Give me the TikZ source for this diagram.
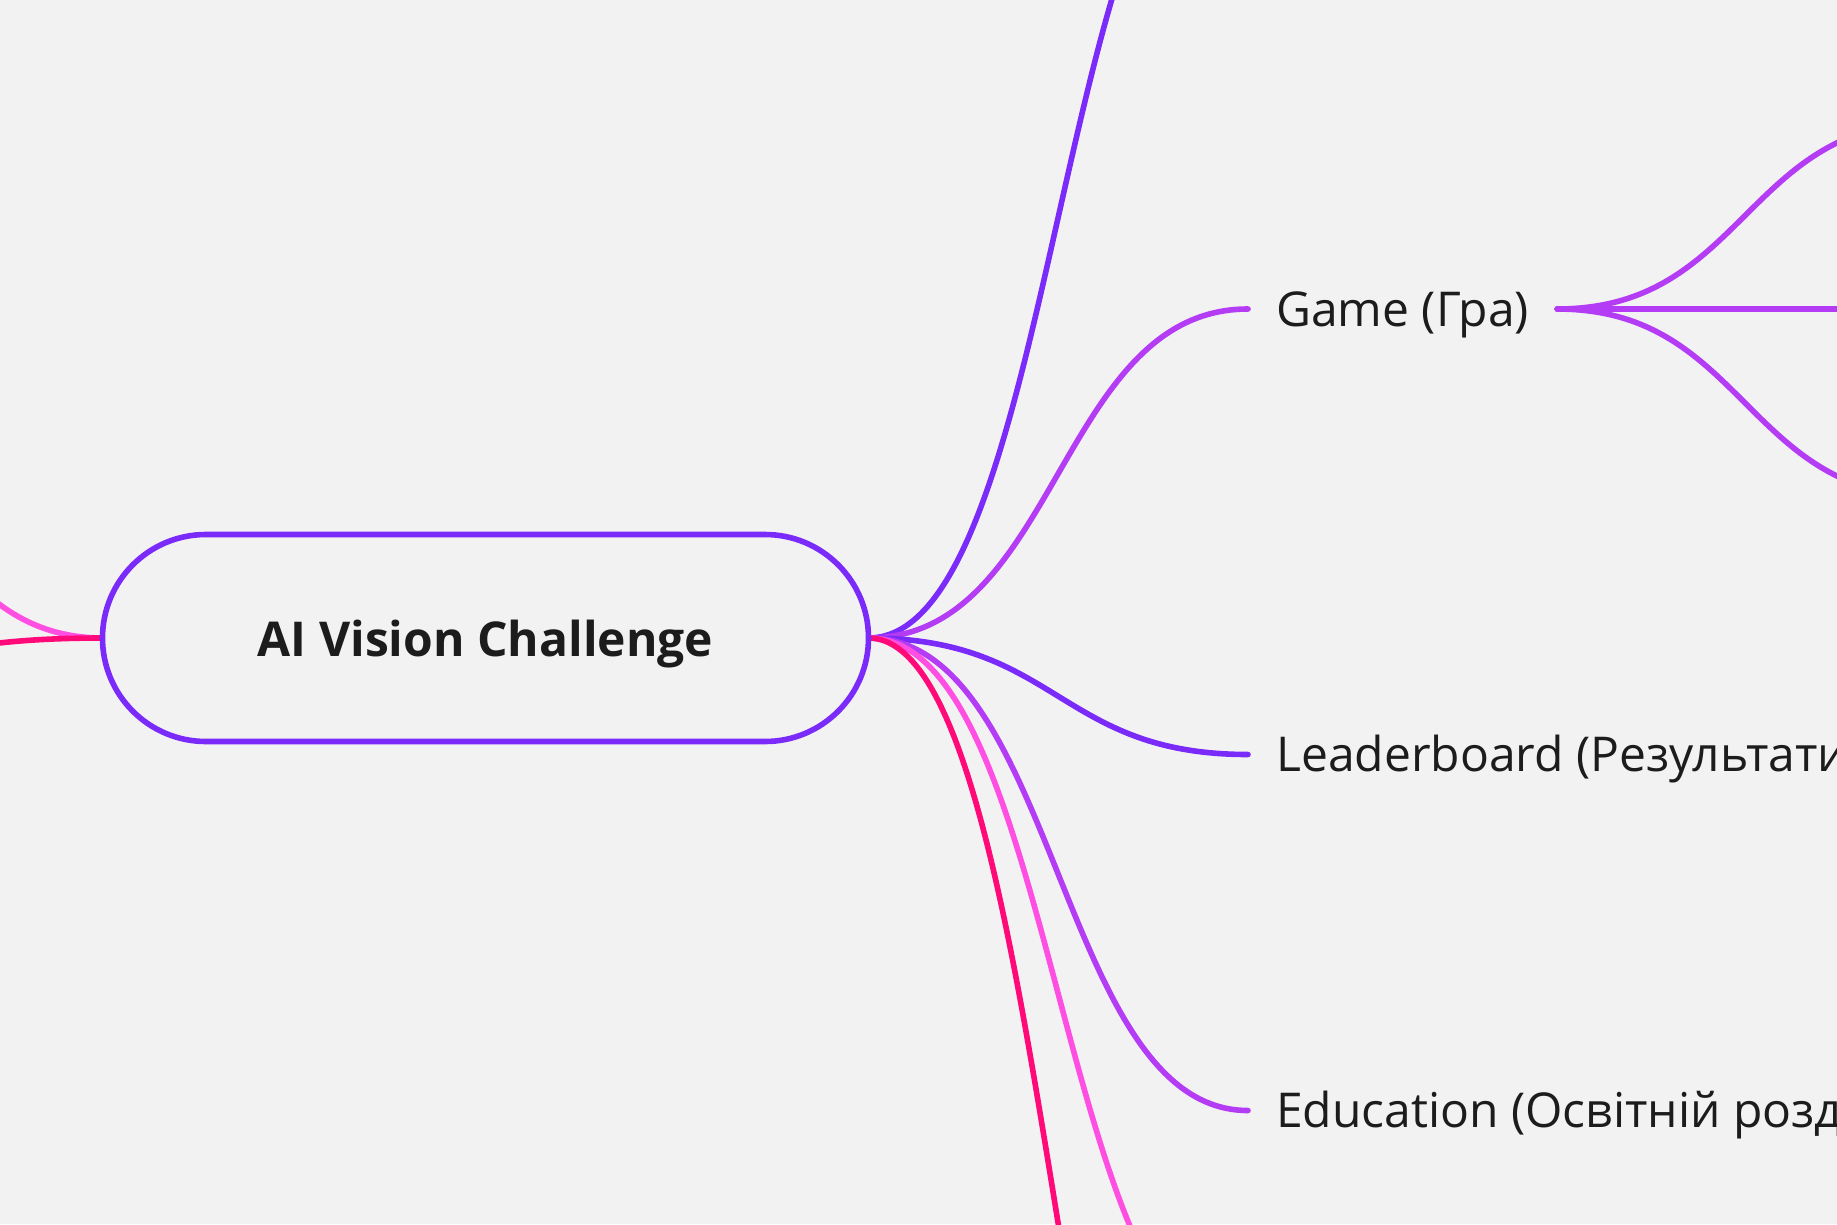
\documentclass[tikz,border=0pt]{standalone}
\usepackage{fontspec}
\setmainfont{Open Sans}
\definecolor{bgc}{HTML}{F2F2F2}
\definecolor{cViolet}{HTML}{7B2BF9}
\definecolor{cPurple}{HTML}{B53CF5}
\definecolor{cPink}{HTML}{FF4FE3}
\definecolor{cHot}{HTML}{FF0A78}
\definecolor{ink}{HTML}{1C1C1C}
\begin{document}
\begin{tikzpicture}[x=1pt,y=-1pt,
  conn/.style={line width=5.6pt, line cap=round},
  brlabel/.style={font=\fontsize{48}{58}\selectfont, text=ink, anchor=west,
    inner xsep=28pt, inner ysep=0pt, text height=34pt, text depth=0pt},
  rootnode/.style={draw=cViolet, fill=bgc, line width=5.6pt, minimum width=766pt,
    minimum height=207pt, rounded corners=103.5pt, text=ink, inner sep=0pt,
    text height=37.4pt, text depth=0pt,
    font=\bfseries\fontsize{48}{58}\selectfont}]
\useasboundingbox (0,0) rectangle (1837,1224);
\fill[bgc] (0,0) rectangle (1837,1224);
\clip (0,0) rectangle (1837,1224);

% off-screen end points
\coordinate (topEnd) at (1248,-204);
\coordinate (pinkEnd) at (1248,1350);
\coordinate (hotEnd) at (1248,1810);
\coordinate (leftUp) at (-273,381);
\coordinate (leftDown) at (-273,676);
\coordinate (g1) at (1933,122);
\coordinate (g2) at (1933,309);
\coordinate (g3) at (1933,497);

% branch labels
\node[brlabel] (game) at (1248,309) {Game (Гра)};
\node[brlabel] (leader) at (1248,754.5) {Leaderboard (Результати)};
\node[brlabel] (edu) at (1248,1110.5) {Education (Освітній розділ)};

% root attachment points
\coordinate (rootE) at (868.5,638);
\coordinate (rootW) at (102.5,638);

% connectors (right)
\draw[conn, cViolet] (rootE) .. controls +(189.5,0) and +(-189.5,0) .. (topEnd);
\draw[conn, cPurple] (rootE) .. controls +(189.5,0) and +(-189.5,0) .. (game.west);
\draw[conn, cViolet] (rootE) .. controls +(189.5,0) and +(-189.5,0) .. (leader.west);
\draw[conn, cPurple] (rootE) .. controls +(189.5,0) and +(-189.5,0) .. (edu.west);
\draw[conn, cPink] (rootE) .. controls +(189.5,0) and +(-189.5,0) .. (pinkEnd);
\draw[conn, cHot] (rootE) .. controls +(189.5,0) and +(-189.5,0) .. (hotEnd);
% connectors (left)
\draw[conn, cPink] (rootW) .. controls +(-187.5,0) and +(187.5,0) .. (leftUp);
\draw[conn, cHot] (rootW) .. controls +(-187.5,0) and +(187.5,0) .. (leftDown);
% game children
\draw[conn, cPurple] (game.east) .. controls +(187.5,0) and +(-187.5,0) .. (g1);
\draw[conn, cPurple] (game.east) -- (g2);
\draw[conn, cPurple] (game.east) .. controls +(187.5,0) and +(-187.5,0) .. (g3);

% root node
\node[rootnode] (root) at (485.5,638) {AI Vision Challenge};
\end{tikzpicture}
\end{document}
